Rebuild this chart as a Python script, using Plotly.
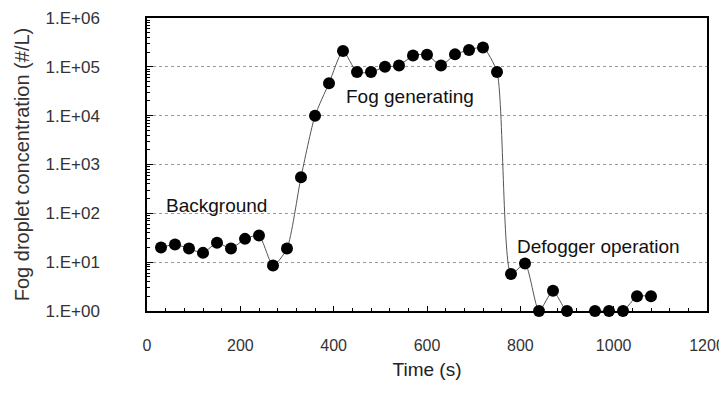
import plotly.graph_objects as go

time_s = [30, 60, 90, 120, 150, 180, 210, 240, 270, 300, 330, 360, 390, 420, 450, 480,
          510, 540, 570, 600, 630, 660, 690, 720, 750, 780, 810, 840, 870, 900,
          960, 990, 1020, 1050, 1080]
conc = [20, 23, 19, 15.5, 25, 19, 30, 35, 8.5, 19, 550, 10000, 46000, 210000, 78000, 78000,
        100000, 106000, 170000, 177000, 106000, 180000, 220000, 250000, 78000, 5.7, 9.4, 1, 2.6, 1,
        1, 1, 1, 2, 2]

ytick_vals = [1, 10, 100, 1000, 10000, 100000, 1000000]
ytick_text = ["1.E+00", "1.E+01", "1.E+02", "1.E+03", "1.E+04", "1.E+05", "1.E+06"]
xtick_vals = [0, 200, 400, 600, 800, 1000, 1200]

labels = ["Background", "Fog generating", "Defogger operation"]
label_x = [148, 564, 968]
label_log10y = [2.17, 4.39, 1.33]

minor_y = [m * 10**k for k in range(6) for m in range(2, 10)]

FONT = "Liberation Sans, Arial, sans-serif"
NARROW = "Liberation Sans Narrow, Arial Narrow, Liberation Sans, sans-serif"

fig = go.Figure()
fig.add_trace(go.Scatter(
    x=time_s, y=conc, mode="lines+markers",
    line=dict(color="#555555", width=1, shape="spline", smoothing=0.6),
    marker=dict(color="black", size=12),
    cliponaxis=False, showlegend=False,
))

for t, xx, yy in zip(labels, label_x, label_log10y):
    fig.add_annotation(x=xx, y=yy, yref="y", xref="x", text=t, showarrow=False,
                       font=dict(family=FONT, size=19, color="#111111"))

fig.update_layout(
    width=719, height=392,
    margin=dict(l=139, r=20, t=10, b=89),
    paper_bgcolor="white", plot_bgcolor="white",
    font=dict(family=FONT, size=19, color="#333333"),
)
fig.update_xaxes(
    range=[0, 1200], tickvals=xtick_vals, ticks="inside", ticklen=5, tickcolor="black",
    tickfont=dict(family=NARROW, size=16, color="#333333"),
    showline=True, linecolor="black", linewidth=1.5, mirror=True, showgrid=False, zeroline=False,
    minor=dict(dtick=40, ticks="inside", ticklen=3, tickcolor="black"),
    title=dict(text="Time (s)", font=dict(family=FONT, size=19, color="#222222"), standoff=10),
    ticklabelstandoff=19, automargin=False, ticklabeloverflow="allow",
)
fig.update_yaxes(
    type="log", range=[0, 6], tickvals=ytick_vals, ticktext=ytick_text,
    ticks="inside", ticklen=6, tickcolor="black",
    tickfont=dict(family=FONT, size=17, color="#333333"),
    showline=True, linecolor="black", linewidth=1.5, mirror=True,
    showgrid=True, gridcolor="#999999", griddash="dot", gridwidth=1,
    minor=dict(tickvals=minor_y, ticks="inside", ticklen=3, tickcolor="black", showgrid=False),
    title=dict(text="Fog droplet concentration (#/L)", font=dict(family=FONT, size=20, color="#333333"), standoff=10),
    ticklabelstandoff=42, automargin=False, ticklabeloverflow="allow",
)
fig.write_html("out.html")
